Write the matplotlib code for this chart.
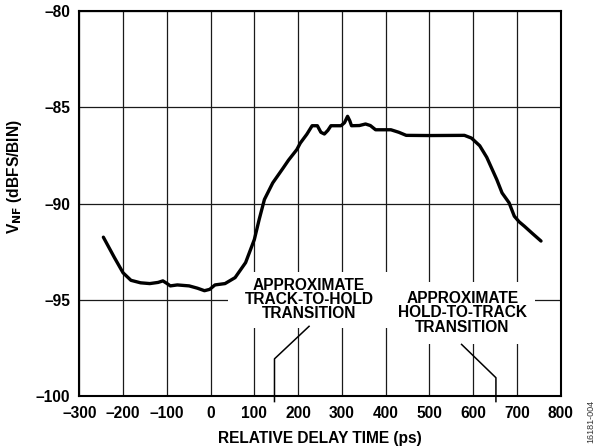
import matplotlib
matplotlib.use("Agg")
import matplotlib.pyplot as plt
from matplotlib.patches import Rectangle

plt.rcParams['font.family'] = ['Liberation Sans', 'DejaVu Sans']
plt.rcParams['font.weight'] = 'bold'

delay_ps = [-245, -220, -200, -182, -160, -139, -120, -109, -100, -92, -76, -60, -49, -30, -14,
            -2, 10, 33, 56, 80, 100, 111, 123, 142, 166, 178, 197, 205, 220, 232, 244,
            252, 260, 268, 275, 298, 306, 313, 318, 322, 340, 354, 365, 377, 412, 430,
            447, 500, 580, 596, 615, 631, 654, 666, 682, 694, 705, 717, 735, 755]
vnf_dbfs = [-91.75, -92.8, -93.6, -93.99, -94.12, -94.16, -94.1, -94.02, -94.15, -94.28, -94.23,
            -94.26, -94.28, -94.4, -94.53, -94.46, -94.23, -94.16, -93.85, -93.07, -91.87,
            -90.83, -89.79, -88.93, -88.15, -87.75, -87.2, -86.86, -86.4, -85.96, -85.96,
            -86.3, -86.39, -86.2, -85.96, -85.96, -85.8, -85.47, -85.7, -85.96, -85.95,
            -85.87, -85.95, -86.17, -86.17, -86.3, -86.46, -86.47, -86.46, -86.6, -87.0,
            -87.6, -88.76, -89.45, -89.96, -90.66, -90.95, -91.18, -91.55, -91.95]

x_ticks = [-300, -200, -100, 0, 100, 200, 300, 400, 500, 600, 700, 800]
y_ticks = [-100, -95, -90, -85, -80]

FS = 11.2

fig = plt.figure(figsize=(5.98, 4.48), dpi=100)
L, R, T, B = 79.3, 560.7, 11, 396
ax = fig.add_axes([L/598, 1-B/448, (R-L)/598, (B-T)/448])

ax.set_xlim(-300, 800)
ax.set_ylim(-100, -80)
ax.set_xticks(x_ticks)
ax.set_yticks(y_ticks)
ax.set_xticklabels([str(v).replace('-', '\u2013') for v in x_ticks])
ax.set_yticklabels([str(v).replace('-', '\u2013') for v in y_ticks])
ax.tick_params(axis='both', length=0, labelsize=FS)
ax.tick_params(axis='x', pad=7)
ax.tick_params(axis='y', pad=6.5)
for lbl in ax.get_xticklabels() + ax.get_yticklabels():
    lbl.set_fontweight('bold')
ax.grid(True, color='#1a1a1a', linewidth=0.9, zorder=0)
ax.set_axisbelow(True)
for s in ax.spines.values():
    s.set_linewidth(1.5)
    s.set_color('black')

# white label areas
ax.add_patch(Rectangle((40, -96.45), 370, 2.9, facecolor='white', edgecolor='none', zorder=1.5))
ax.add_patch(Rectangle((410, -97.32), 331, 3.23, facecolor='white', edgecolor='none', zorder=1.5))

ax.plot(delay_ps, vnf_dbfs, color='black', linewidth=2.4, zorder=3,
        solid_joinstyle='round', solid_capstyle='round')

ax.text(225, -94.99, 'APPROXIMATE\nTRACK-TO-HOLD\nTRANSITION', ha='center', va='center',
        multialignment='center', fontsize=FS, fontweight='bold', linespacing=0.93, zorder=4)
ax.text(575, -95.68, 'APPROXIMATE\nHOLD-TO-TRACK\nTRANSITION', ha='center', va='center',
        multialignment='center', fontsize=FS, fontweight='bold', linespacing=0.93, zorder=4)

ax.plot([225, 146, 146], [-96.38, -98.07, -100.29], color='black', linewidth=1.1,
        clip_on=False, zorder=4)
ax.plot([573.5, 652, 652], [-97.32, -99.05, -100.29], color='black', linewidth=1.1,
        clip_on=False, zorder=4)

fig.text(320/598, 1-438/448, 'RELATIVE DELAY TIME (ps)', ha='center', va='center',
         fontsize=FS, fontweight='bold')
fig.text(15/598, 1-177/448, r'V$_{\mathbf{NF}}$ (dBFS/BIN)', ha='center', va='center',
         rotation=90, fontsize=FS, fontweight='bold')
fig.text(591/598, 1-421/448, '16181-004', ha='center', va='center', rotation=90,
         fontsize=6.5, fontweight='normal', color='#333333')

fig.savefig('out.png', dpi=100)
